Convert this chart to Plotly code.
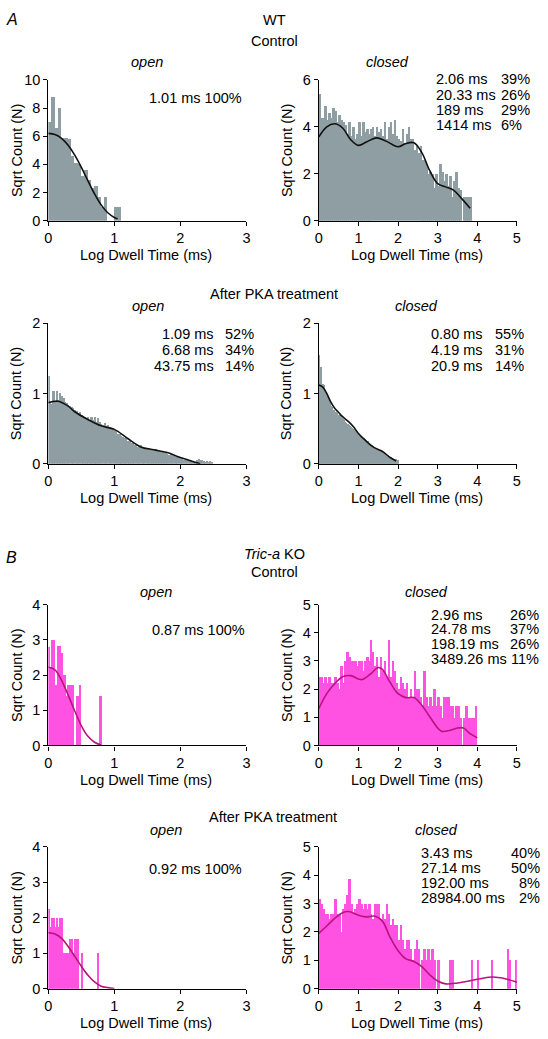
import numpy as np
import plotly.graph_objects as go

# ---------------- data ----------------
# WT control, open (bin width 0.05 log units)
wt_ctrl_open_bars = [7.0, 8.8, 6.6, 8.0, 5.9, 5.9, 5.8, 4.6, 4.1, 4.0, 3.2, 3.6, 2.9, 2.3,
                     2.5, 1.7, 1.0, 1.7, 0.0, 0.0, 1.0, 1.0]
wt_ctrl_open_fit_x = [0.0, 0.1, 0.2, 0.3, 0.4, 0.5, 0.6, 0.7, 0.8, 0.9, 1.0, 1.05]
wt_ctrl_open_fit_y = [6.2, 6.12, 5.85, 5.35, 4.65, 3.78, 2.83, 1.90, 1.12, 0.56, 0.23, 0.13]

# WT control, closed (bin width 0.05)
wt_ctrl_closed_bars = [5.4, 4.4, 4.4, 4.9, 4.3, 4.6, 4.4, 4.8, 4.7, 4.2, 4.5, 4.3, 4.2, 4.1,
                       3.7, 4.2, 3.6, 4.0, 3.5, 3.7, 4.2, 3.6, 4.2, 3.8, 3.9, 3.7, 3.9, 4.0,
                       3.6, 4.0, 3.8, 3.9, 3.6, 4.2, 3.5, 4.0, 4.2, 3.7, 4.3, 3.6, 3.5, 3.4,
                       3.9, 3.3, 3.7, 4.0, 3.5, 3.5, 3.0, 3.2, 2.9, 3.2, 2.6, 2.6, 2.4, 2.0,
                       2.1, 2.0, 1.4, 2.0, 1.5, 2.4, 2.1, 1.7, 2.0, 1.5, 1.9, 1.0, 1.7, 2.1,
                       1.4, 1.3, 0.0, 1.0, 1.0, 1.0, 1.0]
wt_ctrl_closed_fit_x = [0.0, 0.2, 0.4, 0.6, 0.8, 1.0, 1.2, 1.45, 1.7, 2.0, 2.2, 2.4, 2.6,
                        2.8, 3.0, 3.2, 3.4, 3.6, 3.82]
wt_ctrl_closed_fit_y = [3.57, 4.0, 4.13, 3.95, 3.46, 3.21, 3.35, 3.53, 3.39, 3.15, 3.29,
                        3.32, 2.9, 2.13, 1.58, 1.44, 1.3, 0.95, 0.53]

# WT after PKA, open (bin width 0.025)
wt_pka_open_bars = [1.25, 0.86, 0.85, 1.03, 0.88, 1.03, 0.90, 1.0, 0.97, 0.93, 0.88, 0.86,
                    0.84, 0.82, 0.80, 0.79, 0.76, 0.75, 0.72, 0.74, 0.70, 0.68, 0.66, 0.64,
                    0.66, 0.62, 0.67, 0.62, 0.66, 0.60, 0.65, 0.59, 0.57, 0.55, 0.58, 0.53,
                    0.55, 0.52, 0.50, 0.51, 0.48, 0.46, 0.43, 0.42, 0.40, 0.38, 0.37, 0.35,
                    0.33, 0.32, 0.30, 0.29, 0.27, 0.26, 0.24, 0.25, 0.27, 0.24, 0.23, 0.22,
                    0.21, 0.22, 0.20, 0.21, 0.19, 0.21, 0.19, 0.18, 0.17, 0.18, 0.15, 0.16,
                    0.14, 0.13, 0.14, 0.12, 0.11, 0.10, 0.09, 0.10, 0.08, 0.07, 0.06, 0.05,
                    0.06, 0.04, 0.04, 0.03, 0.03, 0.02, 0.05, 0.07, 0.06, 0.05, 0.04, 0.03,
                    0.04, 0.02, 0.04, 0.02]
wt_pka_open_fit_x = [0.0, 0.15, 0.3, 0.4, 0.6, 0.8, 1.0, 1.2, 1.4, 1.6, 1.8, 2.0, 2.2, 2.3]
wt_pka_open_fit_y = [0.87, 0.89, 0.82, 0.74, 0.63, 0.54, 0.49, 0.36, 0.24, 0.2, 0.16, 0.09,
                     0.03, 0.0]

# WT after PKA, closed (bin width 0.025)
wt_pka_closed_bars = [1.55, 1.38, 1.38, 1.14, 1.14, 1.12, 1.05, 1.0, 0.98, 0.95, 0.9, 0.87,
                      0.82, 0.8, 0.77, 0.76, 0.73, 0.74, 0.72, 0.70, 0.70, 0.69, 0.66, 0.65,
                      0.63, 0.62, 0.60, 0.58, 0.57, 0.56, 0.55, 0.53, 0.52, 0.51, 0.50, 0.49,
                      0.48, 0.47, 0.46, 0.44, 0.42, 0.41, 0.39, 0.38, 0.37, 0.36, 0.35, 0.34,
                      0.33, 0.32, 0.30, 0.28, 0.27, 0.26, 0.25, 0.24, 0.22, 0.21, 0.21, 0.20,
                      0.19, 0.19, 0.18, 0.17, 0.17, 0.16, 0.15, 0.14, 0.13, 0.12, 0.11, 0.10,
                      0.09, 0.08, 0.07, 0.07, 0.06, 0.07, 0.06, 0.05]
wt_pka_closed_fit_x = [0.0, 0.1, 0.2, 0.3, 0.4, 0.5, 0.6, 0.75, 0.9, 1.0, 1.2, 1.4, 1.6,
                       1.8, 1.95]
wt_pka_closed_fit_y = [1.12, 1.09, 1.0, 0.88, 0.79, 0.73, 0.67, 0.60, 0.51, 0.43, 0.32,
                       0.23, 0.18, 0.09, 0.04]

# Tric-a KO control, open (bin width 0.025)
ko_ctrl_open_bars = [2.8, 2.2, 3.0, 3.0, 1.73, 1.73, 2.83, 2.83, 2.65, 2.0, 2.0, 1.41,
                     1.73, 1.73, 1.73, 1.73, 0.0, 1.41, 1.41, 1.73, 0.0, 0.0, 0.0, 0.0,
                     0.0, 0.0, 0.0, 0.0, 0.0, 0.0, 0.0, 1.41, 1.41]
ko_ctrl_open_fit_x = [0.0, 0.1, 0.2, 0.3, 0.4, 0.5, 0.6, 0.7, 0.8]
ko_ctrl_open_fit_y = [2.22, 2.15, 1.85, 1.43, 0.98, 0.56, 0.26, 0.09, 0.01]

# Tric-a KO control, closed (bin width 0.05)
ko_ctrl_closed_bars = [2.45, 2.45, 2.24, 2.45, 2.24, 2.45, 2.24, 2.24, 2.45, 2.24, 2.0, 2.83,
                       2.24, 3.0, 3.32, 3.16, 3.0, 3.0, 3.0, 2.83, 3.0, 3.0, 2.65, 3.0,
                       3.16, 3.0, 3.74, 3.32, 2.83, 3.16, 2.45, 3.16, 2.65, 3.0, 2.45, 3.74,
                       2.45, 3.0, 2.65, 2.24, 2.0, 2.45, 2.24, 2.0, 2.24, 1.73, 2.0, 1.73,
                       2.65, 2.0, 2.0, 1.73, 1.41, 2.65, 1.73, 1.41, 1.73, 1.41, 2.0, 1.41,
                       1.73, 1.41, 1.0, 1.73, 1.73, 1.73, 1.41, 1.41, 1.0, 1.41, 1.41, 1.0,
                       0.0, 1.0, 1.41, 1.0, 1.0, 1.0, 1.0, 1.41]
ko_ctrl_closed_fit_x = [0.0, 0.2, 0.4, 0.6, 0.8, 1.0, 1.1, 1.3, 1.5, 1.6, 1.8, 2.0, 2.2,
                        2.4, 2.6, 2.8, 3.0, 3.1, 3.3, 3.5, 3.65, 3.8, 4.0]
ko_ctrl_closed_fit_y = [1.31, 1.84, 2.19, 2.44, 2.48, 2.36, 2.34, 2.53, 2.77, 2.71, 2.24,
                        1.84, 1.70, 1.70, 1.43, 1.02, 0.62, 0.50, 0.53, 0.62, 0.62, 0.44,
                        0.27]

# Tric-a KO after PKA, open (bin width 0.025)
ko_pka_open_bars = [2.24, 1.73, 2.0, 2.0, 1.73, 2.0, 1.73, 2.0, 2.0, 1.0, 1.0, 1.0, 1.0,
                    1.41, 1.41, 1.0, 1.41, 1.41, 1.41, 0.0, 1.0, 0.0, 0.0, 0.0, 0.0, 0.0,
                    0.0, 0.0, 0.0, 0.0, 1.0]
ko_pka_open_fit_x = [0.0, 0.1, 0.2, 0.3, 0.4, 0.5, 0.6, 0.7, 0.8, 0.9, 1.0]
ko_pka_open_fit_y = [1.58, 1.54, 1.42, 1.19, 0.91, 0.63, 0.38, 0.19, 0.07, 0.03, 0.0]

# Tric-a KO after PKA, closed (bin width 0.05)
ko_pka_closed_bars = [3.16, 3.0, 2.83, 2.65, 2.65, 2.45, 2.65, 2.65, 3.16, 2.65, 2.65, 2.0,
                      2.83, 3.0, 3.32, 3.87, 3.0, 2.65, 2.83, 3.0, 3.16, 3.0, 2.83, 3.0,
                      2.83, 3.0, 2.65, 2.45, 3.0, 3.0, 3.0, 2.45, 2.65, 2.45, 3.0, 2.65,
                      2.24, 2.45, 2.24, 2.24, 1.73, 2.24, 1.73, 1.41, 1.73, 1.73, 1.41, 1.0,
                      1.41, 1.73, 1.41, 0.0, 1.0, 1.41, 1.0, 1.41, 1.0, 1.41, 1.0, 0.0,
                      1.0, 0.0, 0.0, 0.0, 0.0, 0.0, 1.0, 1.0, 0.0, 0.0, 0.0, 0.0,
                      0.0, 0.0, 0.0, 0.0, 0.0, 1.0, 0.0, 0.0, 1.0, 0.0, 0.0, 0.0,
                      0.0, 0.0, 0.0, 1.0, 0.0, 0.0, 0.0, 0.0, 0.0, 0.0, 0.0, 1.41,
                      1.0, 0.0, 0.0, 1.0]
ko_pka_closed_fit_x = [0.0, 0.2, 0.4, 0.6, 0.75, 1.0, 1.2, 1.4, 1.6, 1.8, 2.0, 2.2, 2.4,
                       2.6, 2.8, 3.0, 3.2, 3.5, 4.0, 4.4, 4.7, 5.0]
ko_pka_closed_fit_y = [1.95, 2.21, 2.48, 2.68, 2.72, 2.59, 2.53, 2.56, 2.39, 1.81, 1.34,
                       1.05, 0.96, 0.78, 0.49, 0.27, 0.17, 0.2, 0.33, 0.41, 0.35, 0.23]

# fit parameter labels
wt_ctrl_open_label = "1.01 ms 100%"
wt_ctrl_closed_tau = ["2.06 ms", "20.33 ms", "189 ms", "1414 ms"]
wt_ctrl_closed_pct = ["39%", "26%", "29%", "6%"]
wt_pka_open_tau = ["1.09 ms", "6.68 ms", "43.75 ms"]
wt_pka_open_pct = ["52%", "34%", "14%"]
wt_pka_closed_tau = ["0.80 ms", "4.19 ms", "20.9 ms"]
wt_pka_closed_pct = ["55%", "31%", "14%"]
ko_ctrl_open_label = "0.87 ms 100%"
ko_ctrl_closed_tau = ["2.96 ms", "24.78 ms", "198.19 ms", "3489.26 ms"]
ko_ctrl_closed_pct = ["26%", "37%", "26%", "11%"]
ko_pka_open_label = "0.92 ms 100%"
ko_pka_closed_tau = ["3.43 ms", "27.14 ms", "192.00 ms", "28984.00 ms"]
ko_pka_closed_pct = ["40%", "50%", "8%", "2%"]

# ---------------- layout helpers ----------------
W, H = 548, 1039
FONT = "Liberation Sans, Arial, Helvetica, sans-serif"
FS = 14.5
TICK_FS = 14.5
GRAY = "#8f9ea3"
PINK = "#ff52e2"
GRAY_LINE = "#111111"
PINK_LINE = "#b8137f"

col_px = [(45, 246), (319.5, 520.5)]
row_px = [(73, 216), (320, 463), (606, 749), (852, 996)]

def px_x(x):
    return x / W

def px_y(y):
    return 1 - y / H

fig = go.Figure()
annotations = []

panels = [
    (0, 0, wt_ctrl_open_bars, 0.05, wt_ctrl_open_fit_x, wt_ctrl_open_fit_y, GRAY, GRAY_LINE, 3, 10, 2),
    (0, 1, wt_ctrl_closed_bars, 0.05, wt_ctrl_closed_fit_x, wt_ctrl_closed_fit_y, GRAY, GRAY_LINE, 5, 6, 2),
    (1, 0, wt_pka_open_bars, 0.025, wt_pka_open_fit_x, wt_pka_open_fit_y, GRAY, GRAY_LINE, 3, 2, 1),
    (1, 1, wt_pka_closed_bars, 0.025, wt_pka_closed_fit_x, wt_pka_closed_fit_y, GRAY, GRAY_LINE, 5, 2, 1),
    (2, 0, ko_ctrl_open_bars, 0.025, ko_ctrl_open_fit_x, ko_ctrl_open_fit_y, PINK, PINK_LINE, 3, 4, 1),
    (2, 1, ko_ctrl_closed_bars, 0.05, ko_ctrl_closed_fit_x, ko_ctrl_closed_fit_y, PINK, PINK_LINE, 5, 5, 1),
    (3, 0, ko_pka_open_bars, 0.025, ko_pka_open_fit_x, ko_pka_open_fit_y, PINK, PINK_LINE, 3, 4, 1),
    (3, 1, ko_pka_closed_bars, 0.05, ko_pka_closed_fit_x, ko_pka_closed_fit_y, PINK, PINK_LINE, 5, 5, 1),
]

layout_axes = {}
for i, (r, c, bars, bw, fx, fy, bc, lc, xmax, ymax, ydt) in enumerate(panels):
    n = i + 1
    xa = "x" if n == 1 else f"x{n}"
    ya = "y" if n == 1 else f"y{n}"
    centers = [bw * (k + 0.5) for k in range(len(bars))]
    fig.add_trace(go.Bar(x=centers, y=bars, width=bw, marker=dict(color=bc, line=dict(width=0)),
                         xaxis=xa, yaxis=ya, showlegend=False, hoverinfo="skip"))
    fig.add_trace(go.Scatter(x=fx, y=fy, mode="lines", line=dict(color=lc, width=1.6, shape="spline", smoothing=1.0),
                             xaxis=xa, yaxis=ya, showlegend=False, hoverinfo="skip"))
    x0, x1 = col_px[c]
    y0, y1 = row_px[r]
    common = dict(showgrid=False, zeroline=False, showline=True, linecolor="black", linewidth=1.2,
                  ticks="outside", ticklen=4, tickwidth=1.2, tickcolor="black",
                  tickfont=dict(family=FONT, size=TICK_FS, color="black"), fixedrange=True)
    layout_axes["xaxis" if n == 1 else f"xaxis{n}"] = dict(
        domain=[px_x(x0), px_x(x1)], range=[0, xmax], tickmode="linear", tick0=0, dtick=1,
        anchor=ya, **common)
    layout_axes["yaxis" if n == 1 else f"yaxis{n}"] = dict(
        domain=[px_y(y1), px_y(y0)], range=[0, ymax], tickmode="linear", tick0=0, dtick=ydt,
        anchor=xa, **common)
    annotations.append(dict(text="Log Dwell Time (ms)", x=px_x((x0 + x1) / 2 - 1), y=px_y(y1 + 35)))
    annotations.append(dict(text="Sqrt Count (N)", x=px_x(13 if c == 0 else 287), y=px_y((y0 + y1) / 2),
                            textangle=-90))

def txt(text, x, y, xanchor="center", italic=False, size=FS):
    t = f"<i>{text}</i>" if italic else text
    annotations.append(dict(text=t, x=px_x(x), y=px_y(y), xanchor=xanchor, font=dict(size=size)))

txt("A", 8, 12, italic=True, size=16)
txt("WT", 274, 12)
txt("Control", 274, 34)
txt("open", 145, 55, italic=True)
txt("closed", 389, 55, italic=True)
txt(wt_ctrl_open_label, 194, 91)
for k, yy in enumerate([72, 88, 104, 119]):
    txt(wt_ctrl_closed_tau[k], 436, yy, xanchor="left")
    txt(wt_ctrl_closed_pct[k], 502, yy, xanchor="left")

txt("After PKA treatment", 274, 290)
txt("open", 146, 303, italic=True)
txt("closed", 419, 303, italic=True)
for k, yy in enumerate([331, 347, 364]):
    txt(wt_pka_open_tau[k], 215, yy, xanchor="right")
    txt(wt_pka_open_pct[k], 222, yy, xanchor="left")
    txt(wt_pka_closed_tau[k], 431, yy, xanchor="left")
    txt(wt_pka_closed_pct[k], 496, yy, xanchor="left")

txt("B", 8, 558, italic=True, size=16)
annotations.append(dict(text="<i>Tric-a</i> KO", x=px_x(274), y=px_y(555)))
txt("Control", 274, 573)
txt("open", 154, 593, italic=True)
txt("closed", 429, 593, italic=True)
txt(ko_ctrl_open_label, 197, 632)
for k, yy in enumerate([616, 631, 646, 661]):
    txt(ko_ctrl_closed_tau[k], 431, yy, xanchor="left")
    txt(ko_ctrl_closed_pct[k], 545, yy, xanchor="right")

txt("After PKA treatment", 273, 822)
txt("open", 164, 835, italic=True)
txt("closed", 439, 835, italic=True)
txt(ko_pka_open_label, 194, 874)
for k, yy in enumerate([858, 873, 889, 904]):
    txt(ko_pka_closed_tau[k], 421, yy, xanchor="left")
    txt(ko_pka_closed_pct[k], 546, yy, xanchor="right")

for a in annotations:
    a.setdefault("xref", "paper")
    a.setdefault("yref", "paper")
    a.setdefault("showarrow", False)
    a.setdefault("yanchor", "middle")
    a.setdefault("xanchor", "center")
    f = a.get("font", {})
    f.setdefault("family", FONT)
    f.setdefault("size", FS)
    f.setdefault("color", "black")
    a["font"] = f

fig.update_layout(
    width=W, height=H, margin=dict(l=0, r=0, t=0, b=0),
    paper_bgcolor="white", plot_bgcolor="white",
    bargap=0, barmode="overlay", showlegend=False,
    annotations=annotations, font=dict(family=FONT, size=FS, color="black"),
    **layout_axes,
)

fig.write_html("out.html", config={"displayModeBar": False},
               post_script="document.body.style.margin='0';document.body.style.padding='0';")
